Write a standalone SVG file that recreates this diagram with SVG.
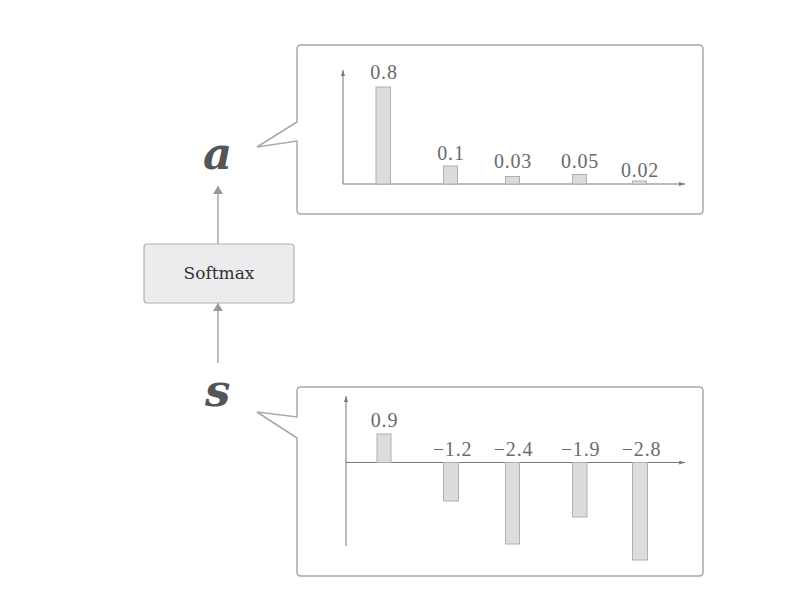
<svg xmlns="http://www.w3.org/2000/svg" width="790" height="612" viewBox="0 0 790 612">
<defs>
<marker id="ah" viewBox="0 0 8 10" refX="8" refY="5" markerWidth="8" markerHeight="10" markerUnits="userSpaceOnUse" orient="auto"><path d="M0,0 L8,5 L0,10 z" fill="#999"/></marker>
<marker id="axh" viewBox="0 0 6 4" refX="6" refY="2" markerWidth="6" markerHeight="4" markerUnits="userSpaceOnUse" orient="auto"><path d="M0,0 L6,2 L0,4 z" fill="#777"/></marker>
<style>
.callout{fill:#fff;stroke:#a8a8a8;stroke-width:1.5;stroke-linejoin:miter}
.axis{stroke:#777;stroke-width:1;fill:none}
.bar{fill:#dcdcdc;stroke:#b0b0b0;stroke-width:1}
.val{font-family:"Liberation Serif",serif;font-size:20px;fill:#6a6a6a;text-anchor:middle;letter-spacing:0.8px}
.var{font-family:"DejaVu Serif","Liberation Serif",serif;font-weight:bold;font-style:italic;font-size:45px;fill:#555}
.conn{stroke:#999;stroke-width:1.3;fill:none}
</style>
</defs>
<rect width="790" height="612" fill="#fff"/>

<g id="connectors">
<line class="conn" x1="218" y1="363" x2="218" y2="303" marker-end="url(#ah)"/>
<line class="conn" x1="218" y1="244" x2="218" y2="186" marker-end="url(#ah)"/>
</g>

<g id="softmax">
<rect x="144" y="244" width="150" height="59" rx="3" fill="#ececee" stroke="#b0b0b0" stroke-width="1.2"/>
<text x="219" y="279" font-family="DejaVu Serif, Liberation Serif, serif" font-size="17" fill="#333" text-anchor="middle">Softmax</text>
</g>

<g id="var-a">
<text class="var" x="203" y="169">a</text>
</g>
<g id="var-s">
<text class="var" x="205" y="406">s</text>
</g>

<g id="chart-a">
<path class="callout" d="M297,122 L297,49 Q297,45 301,45 L699,45 Q703,45 703,49 L703,210 Q703,214 699,214 L301,214 Q297,214 297,210 L297,141 L257,147 Z"/>
<line class="axis" x1="343" y1="184" x2="343" y2="70" marker-end="url(#axh)"/>
<line class="axis" x1="343" y1="184" x2="685" y2="184" marker-end="url(#axh)"/>
<rect class="bar" x="376" y="87" width="14.5" height="97"/>
<rect class="bar" x="443.5" y="166" width="14" height="18"/>
<rect class="bar" x="505.5" y="176.5" width="14" height="7.5"/>
<rect class="bar" x="572.5" y="174.5" width="14" height="9.5"/>
<rect class="bar" x="632.5" y="181" width="14" height="3"/>
<text class="val" x="384" y="79">0.8</text>
<text class="val" x="451" y="160">0.1</text>
<text class="val" x="513" y="168">0.03</text>
<text class="val" x="580" y="168">0.05</text>
<text class="val" x="640" y="177">0.02</text>
</g>

<g id="chart-s">
<path class="callout" d="M297,417 L297,391 Q297,387 301,387 L699,387 Q703,387 703,391 L703,572 Q703,576 699,576 L301,576 Q297,576 297,572 L297,438 L257,412 Z"/>
<line class="axis" x1="346" y1="546" x2="346" y2="396" marker-end="url(#axh)"/>
<line class="axis" x1="346" y1="462.5" x2="685" y2="462.5" marker-end="url(#axh)"/>
<rect class="bar" x="377" y="434" width="14" height="28.5"/>
<rect class="bar" x="443.5" y="462.5" width="15" height="38.5"/>
<rect class="bar" x="505.5" y="462.5" width="14" height="81.5"/>
<rect class="bar" x="572.5" y="462.5" width="14.5" height="54.5"/>
<rect class="bar" x="632.5" y="462.5" width="15" height="97.5"/>
<text class="val" x="384.5" y="427">0.9</text>
<text class="val" x="452.5" y="456">−1.2</text>
<text class="val" x="513.5" y="456">−2.4</text>
<text class="val" x="580.5" y="456">−1.9</text>
<text class="val" x="641.5" y="456">−2.8</text>
</g>
</svg>
